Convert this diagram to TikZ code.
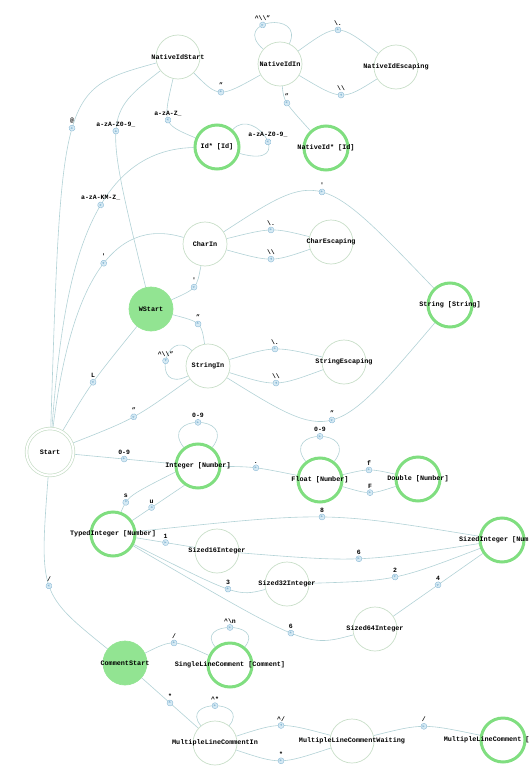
\documentclass[tikz,border=0pt]{standalone}
\usepackage{fontspec}
\setmainfont{Liberation Mono}
\newfontfamily\symf{DejaVu Sans}
\usetikzlibrary{backgrounds}
\definecolor{edgec}{RGB}{178,210,214}
\definecolor{stc}{RGB}{200,222,200}
\definecolor{accc}{RGB}{128,222,128}
\definecolor{fillc}{RGB}{146,228,146}
\definecolor{mkf}{RGB}{214,234,244}
\definecolor{mkl}{RGB}{140,186,214}
\newcommand\tmk[3]{node[mk,pos=#1] (m#2) {▶} node[lbl,pos=#1,above=3.5pt] (l#2) {#3}}
\newcommand\nm[1]{\makebox[0pt]{#1}}
\begin{document}
\begin{tikzpicture}[x=1pt,y=-1pt,font=\bfseries\fontsize{6.8}{8}\selectfont,
  st/.style={circle,draw=stc,line width=0.7pt,minimum size=44pt,inner sep=0pt},
  acc/.style={circle,draw=accc,line width=3pt,minimum size=44pt,inner sep=0pt},
  fst/.style={circle,draw=fillc,fill=fillc,line width=0.7pt,minimum size=44pt,inner sep=0pt},
  ss/.style={circle,draw=stc,double=white,double distance=2pt,line width=0.7pt,minimum size=47pt,inner sep=0pt},
  tr/.style={draw=edgec,line width=0.6pt},
  mk/.style={circle,draw=mkl,fill=mkf,line width=0.4pt,inner sep=0pt,minimum size=6pt,sloped,allow upside down,text=mkl,font=\symf\fontsize{3}{3}\selectfont},
  lbl/.style={inner sep=0.5pt,font=\bfseries\fontsize{6.5}{7}\selectfont}]
\useasboundingbox (0,0) rectangle (528,768);
\clip (0,0) rectangle (528,768);
% states
\node[st] (nis) at (178,57) {\nm{NativeIdStart}};
\node[st] (nin) at (280,64) {\nm{NativeIdIn}};
\node[st] (nie) at (396,67) {\nm{NativeIdEscaping}};
\node[acc] (idst) at (217,147) {\nm{Id* [Id]}};
\node[acc] (nidst) at (326,148) {\nm{NativeId* [Id]}};
\node[st] (charin) at (205,244) {\nm{CharIn}};
\node[st] (chare) at (331,242) {\nm{CharEscaping}};
\node[fst] (wst) at (151,309) {\nm{WStart}};
\node[acc] (str) at (450,305) {\nm{String [String]}};
\node[st] (strin) at (208,366) {\nm{StringIn}};
\node[st] (stre) at (344,362) {\nm{StringEscaping}};
\node[ss] (start) at (50,452) {\nm{Start}};
\node[acc] (int) at (198,466) {\nm{Integer [Number]}};
\node[acc] (flt) at (320,480) {\nm{Float [Number]}};
\node[acc] (dbl) at (418,479) {\nm{Double [Number]}};
\node[acc] (tint) at (113,534) {\nm{TypedInteger [Number]}};
\node[st] (s16) at (217,551) {\nm{Sized16Integer}};
\node[acc] (sint) at (502,540) {\nm{SizedInteger [Number]}};
\node[st] (s32) at (287,584) {\nm{Sized32Integer}};
\node[st] (s64) at (375,629) {\nm{Sized64Integer}};
\node[fst] (cst) at (125,663) {\nm{CommentStart}};
\node[acc] (slc) at (230,665) {\nm{SingleLineComment [Comment]}};
\node[st] (mlci) at (215,743) {\nm{MultipleLineCommentIn}};
\node[st] (mlcw) at (352,741) {\nm{MultipleLineCommentWaiting}};
\node[acc] (mlc) at (503,740) {\nm{MultipleLineComment [Comment]}};
% transitions
\begin{scope}[on background layer]
\draw[tr] (start) .. controls (61.5,89) .. (nis) \tmk{.5}{1}{@};
\draw[tr] (wst) .. controls (103.5,115) .. (nis) \tmk{.5}{2}{a-zA-Z0-9\_};
\draw[tr] (nis) .. controls (162.6,124) .. (idst) \tmk{.5}{3}{a-zA-Z\_};
\draw[tr] (nis) .. controls (218.9,98.2) .. (nin) \tmk{.5}{4}{"};
\draw[tr] (nin) .. controls (230,20) and (305,10) .. (nin) \tmk{.4}{5}{\textasciicircum\textbackslash\textbackslash"};
\draw[tr] (nin) .. controls (337.9,22.5) .. (nie) \tmk{.5}{6}{\textbackslash.};
\draw[tr] (nie) .. controls (342,101) .. (nin) \tmk{.5}{7}{\textbackslash\textbackslash};
\draw[tr] (nin) .. controls (283.8,101.3) .. (nidst) \tmk{.5}{8}{"};
\draw[tr] (idst) .. controls (255,105) and (298,170) .. (idst) \tmk{.55}{9}{a-zA-Z0-9\_};
\draw[tr] (start) .. controls (62,300) and (80,150) .. (idst) \tmk{.62}{10}{a-zA-KM-Z\_};
\draw[tr] (start) .. controls (70,290) and (110,215) .. (charin) \tmk{.55}{11}{\textquotesingle};
\draw[tr] (wst) .. controls (196.7,288.5) .. (charin) \tmk{.5}{12}{\textquotesingle};
\draw[tr] (charin) .. controls (272,227.4) .. (chare) \tmk{.5}{13}{\textbackslash.};
\draw[tr] (chare) .. controls (271.9,262.3) .. (charin) \tmk{.5}{14}{\textbackslash\textbackslash};
\draw[tr] (charin) .. controls (319.8,169.3) .. (str) \tmk{.5}{15}{\textquotesingle};
\draw[tr] (start) .. controls (90.9,383.4) .. (wst) \tmk{.5}{16}{L};
\draw[tr] (wst) .. controls (201.2,322.2) .. (strin) \tmk{.5}{17}{"};
\draw[tr] (strin) .. controls (165,325) and (150,395) .. (strin) \tmk{.5}{18}{\textasciicircum\textbackslash\textbackslash"};
\draw[tr] (strin) .. controls (274.7,345.9) .. (stre) \tmk{.5}{19}{\textbackslash.};
\draw[tr] (stre) .. controls (275.9,387) .. (strin) \tmk{.5}{20}{\textbackslash\textbackslash};
\draw[tr] (strin) .. controls (332.4,443.2) .. (str) \tmk{.5}{21}{"};
\draw[tr] (start) .. controls (134.6,418.7) .. (strin) \tmk{.5}{22}{"};
\draw[tr] (start) -- (int) \tmk{.5}{23}{0-9};
\draw[tr] (int) .. controls (158,414) and (238,414) .. (int) \tmk{.5}{24}{0-9};
\draw[tr] (int) .. controls (254.8,466.8) .. (flt) \tmk{.5}{25}{.};
\draw[tr] (flt) .. controls (280,428) and (360,428) .. (flt) \tmk{.5}{26}{0-9};
\draw[tr] (flt) .. controls (369,468.5) .. (dbl) \tmk{.5}{27}{f};
\draw[tr] (flt) .. controls (370.3,494.7) .. (dbl) \tmk{.5}{28}{F};
\draw[tr] (int.195) .. controls (128,496) .. (tint.70) \tmk{.75}{29}{s};
\draw[tr] (int.235) -- (tint.35) \tmk{.63}{30}{u};
\draw[tr] (tint) .. controls (326.8,511.3) .. (sint) \tmk{.5}{31}{8};
\draw[tr] (tint) -- (s16) \tmk{.5}{32}{1};
\draw[tr] (s16) .. controls (358.8,562.3) .. (sint) \tmk{.5}{33}{6};
\draw[tr] (tint) .. controls (237.4,596.5) .. (s32) \tmk{.5}{34}{3};
\draw[tr] (s32) .. controls (395.2,580.7) .. (sint) \tmk{.5}{35}{2};
\draw[tr] (s64) -- (sint) \tmk{.5}{36}{4};
\draw[tr] (tint) .. controls (306.8,647.4) .. (s64) \tmk{.5}{37}{6};
\draw[tr] (start) .. controls (39.3,593.7) .. (cst) \tmk{.5}{38}{/};
\draw[tr] (cst) .. controls (173.1,639.2) .. (slc) \tmk{.5}{39}{/};
\draw[tr] (slc) .. controls (194,621) and (266,621) .. (slc) \tmk{.5}{40}{\textasciicircum\textbackslash n};
\draw[tr] (cst) -- (mlci) \tmk{.5}{41}{*};
\draw[tr] (mlci) .. controls (179,699) and (251,699) .. (mlci) \tmk{.5}{42}{\textasciicircum*};
\draw[tr] (mlci) .. controls (280.2,764.7) .. (mlcw) \tmk{.5}{43}{*};
\draw[tr] (mlcw) .. controls (280.3,722) .. (mlci) \tmk{.5}{44}{\textasciicircum/};
\draw[tr] (mlcw) .. controls (422.9,723.3) .. (mlc) \tmk{.5}{45}{/};
\end{scope}
\end{tikzpicture}
\end{document}
